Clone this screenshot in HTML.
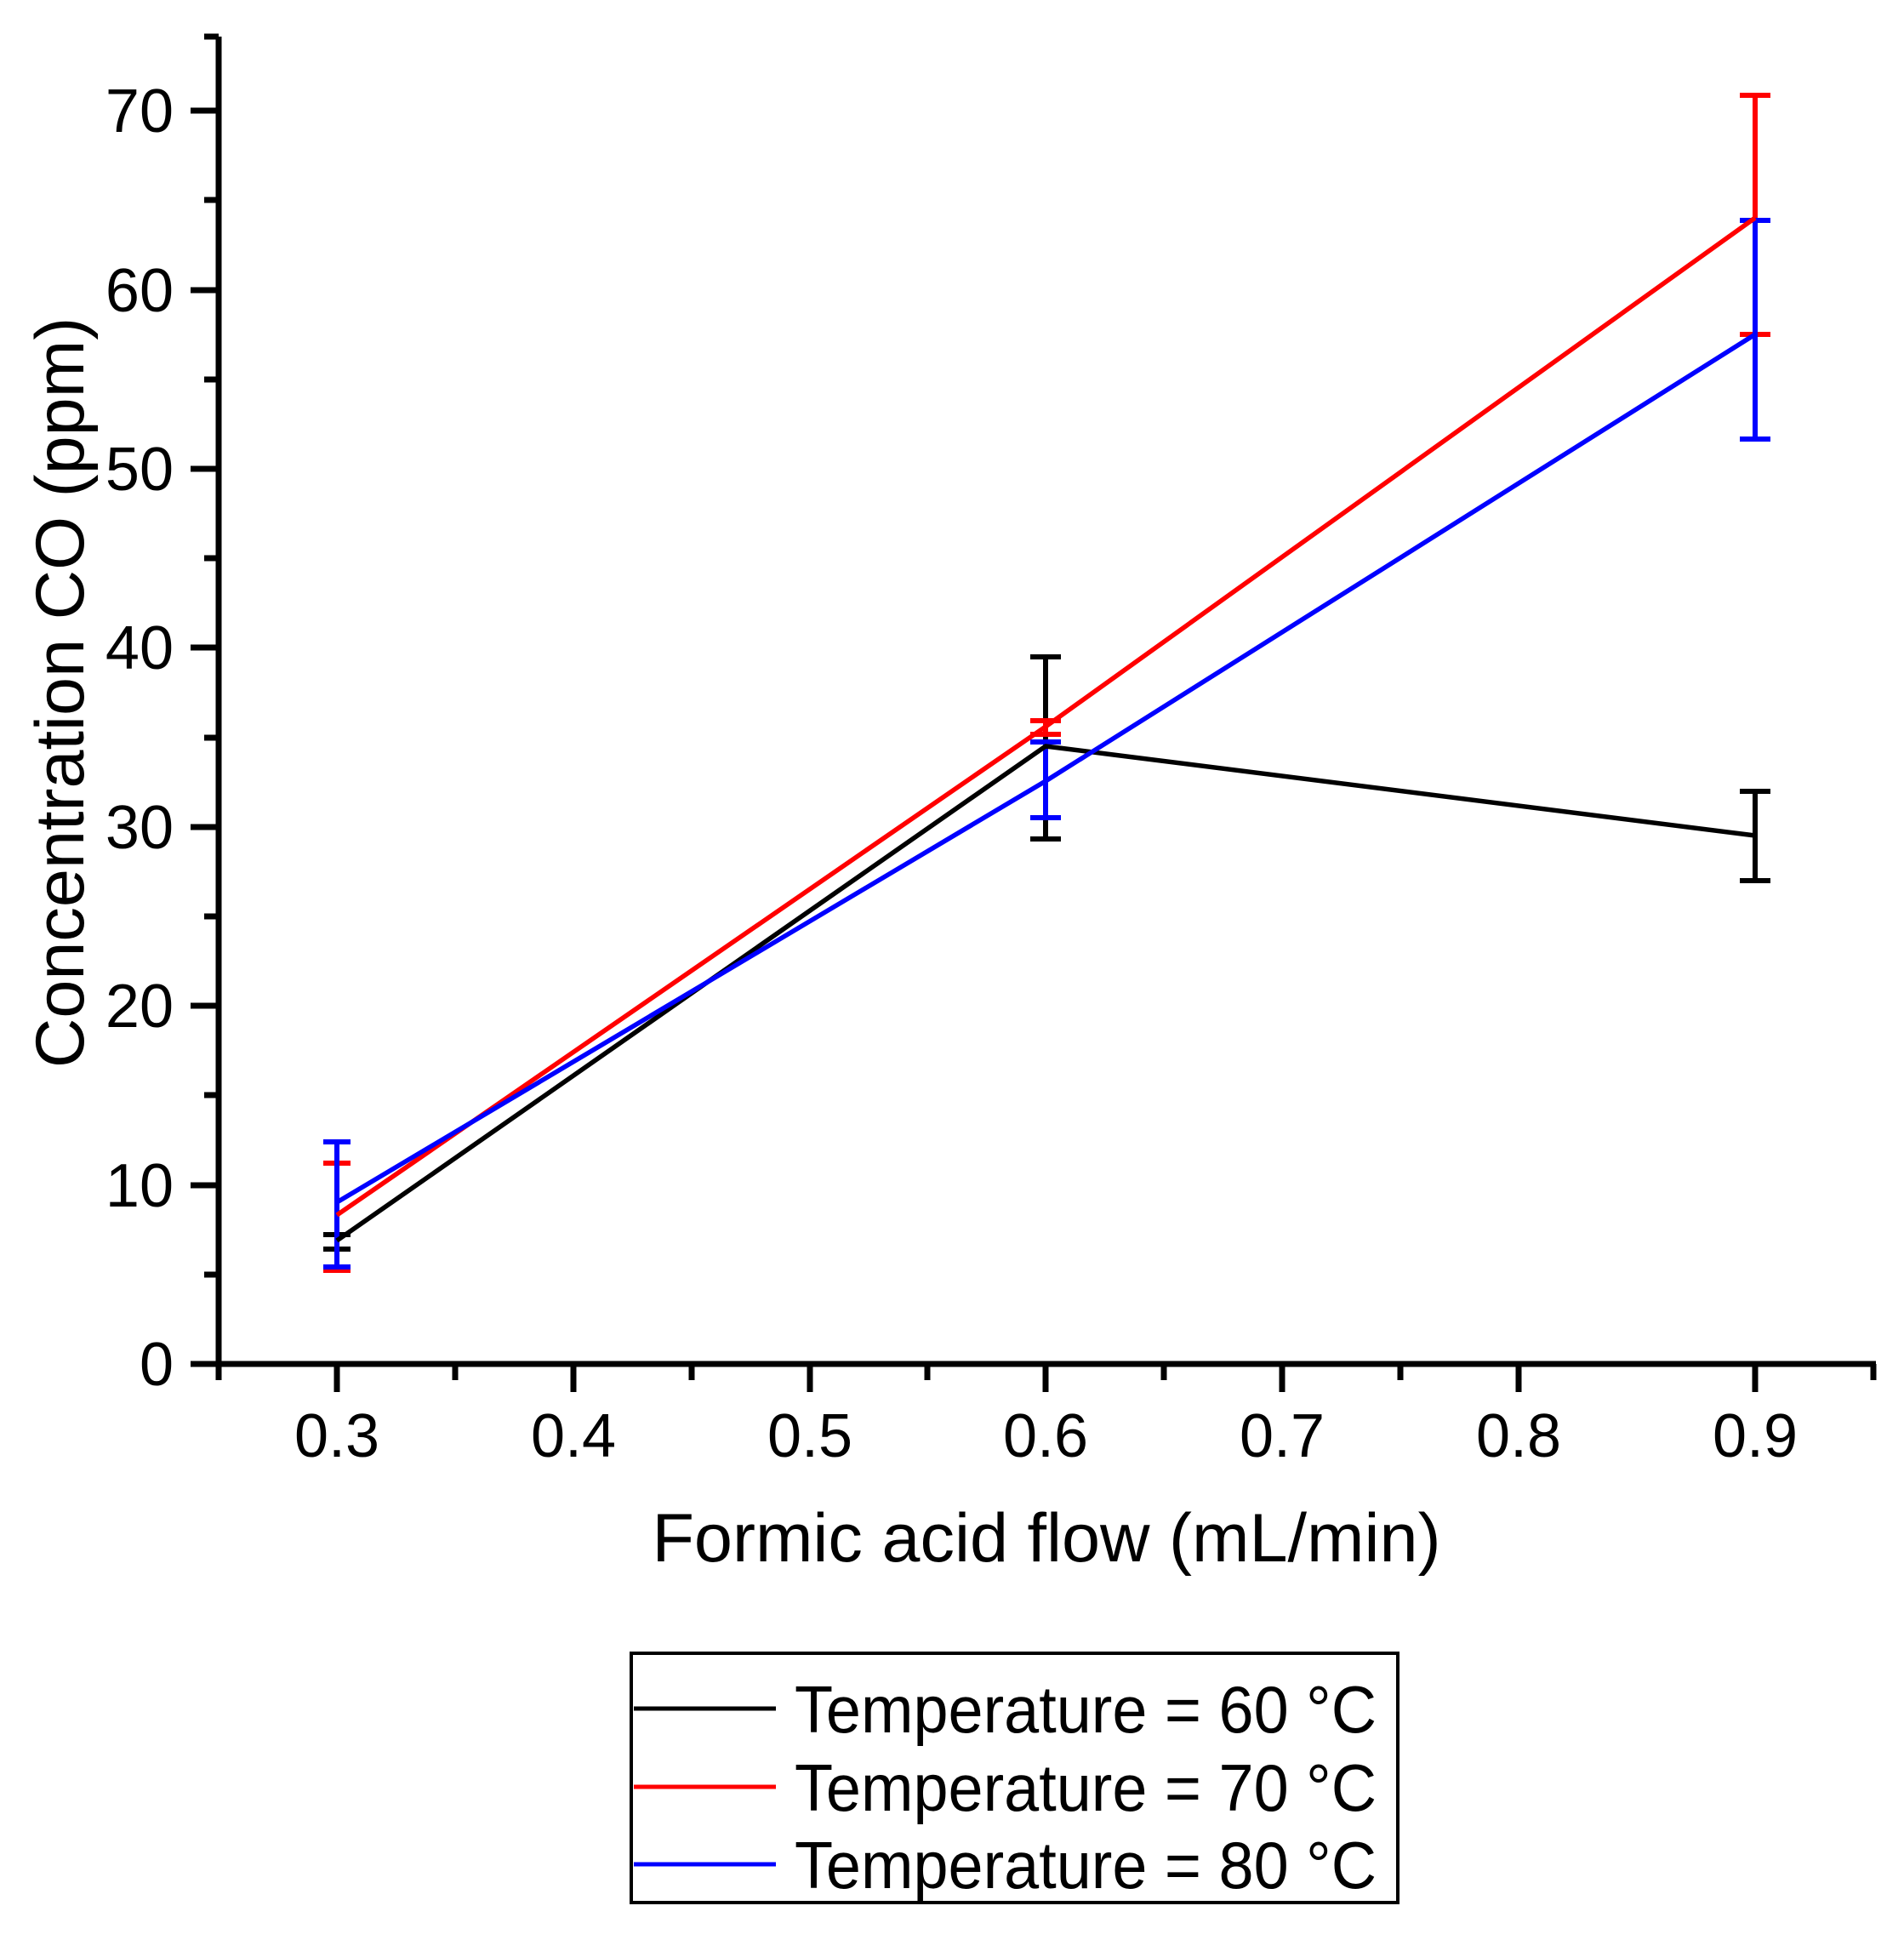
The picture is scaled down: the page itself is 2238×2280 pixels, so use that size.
<!DOCTYPE html>
<html><head><meta charset="utf-8"><style>
html,body{margin:0;padding:0;background:#fff;}
svg{display:block;}
text{font-family:"Liberation Sans",Arial,sans-serif;fill:#000;}
</style></head><body>
<svg width="2238" height="2280" viewBox="0 0 2238 2280" xmlns="http://www.w3.org/2000/svg">
<g stroke="#000" stroke-width="7" fill="none" stroke-linecap="butt">
  <line x1="257" y1="43" x2="257" y2="1606"/>
  <line x1="224" y1="1603" x2="2205" y2="1603"/>
  <line x1="240" y1="43" x2="257" y2="43"/>
  <line x1="224" y1="1603" x2="257" y2="1603"/>
  <line x1="224" y1="1393" x2="257" y2="1393"/>
  <line x1="224" y1="1182" x2="257" y2="1182"/>
  <line x1="224" y1="972" x2="257" y2="972"/>
  <line x1="224" y1="761" x2="257" y2="761"/>
  <line x1="224" y1="551" x2="257" y2="551"/>
  <line x1="224" y1="341" x2="257" y2="341"/>
  <line x1="224" y1="130" x2="257" y2="130"/>
  <line x1="240" y1="1498" x2="257" y2="1498"/>
  <line x1="240" y1="1287" x2="257" y2="1287"/>
  <line x1="240" y1="1077" x2="257" y2="1077"/>
  <line x1="240" y1="867" x2="257" y2="867"/>
  <line x1="240" y1="656" x2="257" y2="656"/>
  <line x1="240" y1="446" x2="257" y2="446"/>
  <line x1="240" y1="235" x2="257" y2="235"/>
  <line x1="396" y1="1603" x2="396" y2="1636"/>
  <line x1="674" y1="1603" x2="674" y2="1636"/>
  <line x1="952" y1="1603" x2="952" y2="1636"/>
  <line x1="1229" y1="1603" x2="1229" y2="1636"/>
  <line x1="1507" y1="1603" x2="1507" y2="1636"/>
  <line x1="1785" y1="1603" x2="1785" y2="1636"/>
  <line x1="2063" y1="1603" x2="2063" y2="1636"/>
  <line x1="257" y1="1603" x2="257" y2="1622"/>
  <line x1="535" y1="1603" x2="535" y2="1622"/>
  <line x1="813" y1="1603" x2="813" y2="1622"/>
  <line x1="1090" y1="1603" x2="1090" y2="1622"/>
  <line x1="1368" y1="1603" x2="1368" y2="1622"/>
  <line x1="1646" y1="1603" x2="1646" y2="1622"/>
  <line x1="2202" y1="1603" x2="2202" y2="1622"/>
</g>
<g font-size="72" text-anchor="end">
  <text x="204" y="1628">0</text>
  <text x="204" y="1418">10</text>
  <text x="204" y="1207">20</text>
  <text x="204" y="997">30</text>
  <text x="204" y="786">40</text>
  <text x="204" y="576">50</text>
  <text x="204" y="366">60</text>
  <text x="204" y="155">70</text>
</g>
<g font-size="72" text-anchor="middle">
  <text x="396" y="1712">0.3</text>
  <text x="674" y="1712">0.4</text>
  <text x="952" y="1712">0.5</text>
  <text x="1229" y="1712">0.6</text>
  <text x="1507" y="1712">0.7</text>
  <text x="1785" y="1712">0.8</text>
  <text x="2063" y="1712">0.9</text>
</g>
<text x="1230" y="1835" font-size="81" text-anchor="middle">Formic acid flow (mL/min)</text>
<text transform="translate(98,814) rotate(-90)" font-size="81" text-anchor="middle">Concentration CO (ppm)</text>

<g stroke-width="6" fill="none">
  <g stroke="#000">
    <line x1="396" y1="1451" x2="396" y2="1468"/><line x1="380" y1="1451" x2="412" y2="1451"/><line x1="380" y1="1468" x2="412" y2="1468"/>
    <line x1="1229" y1="772" x2="1229" y2="986"/><line x1="1211" y1="772" x2="1247" y2="772"/><line x1="1211" y1="986" x2="1247" y2="986"/>
    <line x1="2063" y1="930" x2="2063" y2="1035"/><line x1="2045" y1="930" x2="2081" y2="930"/><line x1="2045" y1="1035" x2="2081" y2="1035"/>
  </g>
  <g stroke="#f00">
    <line x1="396" y1="1367" x2="396" y2="1493"/><line x1="380" y1="1367" x2="412" y2="1367"/><line x1="380" y1="1493" x2="412" y2="1493"/>
    <line x1="1229" y1="847" x2="1229" y2="863"/><line x1="1211" y1="847" x2="1247" y2="847"/><line x1="1211" y1="863" x2="1247" y2="863"/>
    <line x1="2063" y1="112" x2="2063" y2="393"/><line x1="2045" y1="112" x2="2081" y2="112"/><line x1="2045" y1="393" x2="2081" y2="393"/>
  </g>
  <g stroke="#00f">
    <line x1="396" y1="1342" x2="396" y2="1489"/><line x1="380" y1="1342" x2="412" y2="1342"/><line x1="380" y1="1489" x2="412" y2="1489"/>
    <line x1="1229" y1="872" x2="1229" y2="961"/><line x1="1211" y1="872" x2="1247" y2="872"/><line x1="1211" y1="961" x2="1247" y2="961"/>
    <line x1="2063" y1="259" x2="2063" y2="516"/><line x1="2045" y1="259" x2="2081" y2="259"/><line x1="2045" y1="516" x2="2081" y2="516"/>
  </g>
</g>
<g fill="none" stroke-width="5.5" stroke-linejoin="round">
  <polyline stroke="#000" points="396,1458 1229,877 2063,982"/>
  <polyline stroke="#f00" points="396,1428 1229,854 2063,256"/>
  <polyline stroke="#00f" points="396,1413 1229,918 2063,393"/>
</g>

<rect x="742" y="1943" width="901" height="293" fill="none" stroke="#000" stroke-width="4"/>
<line x1="745" y1="2008" x2="912" y2="2008" stroke="#000" stroke-width="5"/>
<line x1="745" y1="2100" x2="912" y2="2100" stroke="#f00" stroke-width="5"/>
<line x1="745" y1="2191" x2="912" y2="2191" stroke="#00f" stroke-width="5"/>
<g font-size="78">
  <text x="934" y="2036" textLength="684" lengthAdjust="spacingAndGlyphs">Temperature = 60 °C</text>
  <text x="934" y="2128" textLength="684" lengthAdjust="spacingAndGlyphs">Temperature = 70 °C</text>
  <text x="934" y="2219" textLength="684" lengthAdjust="spacingAndGlyphs">Temperature = 80 °C</text>
</g>
</svg>
</body></html>
